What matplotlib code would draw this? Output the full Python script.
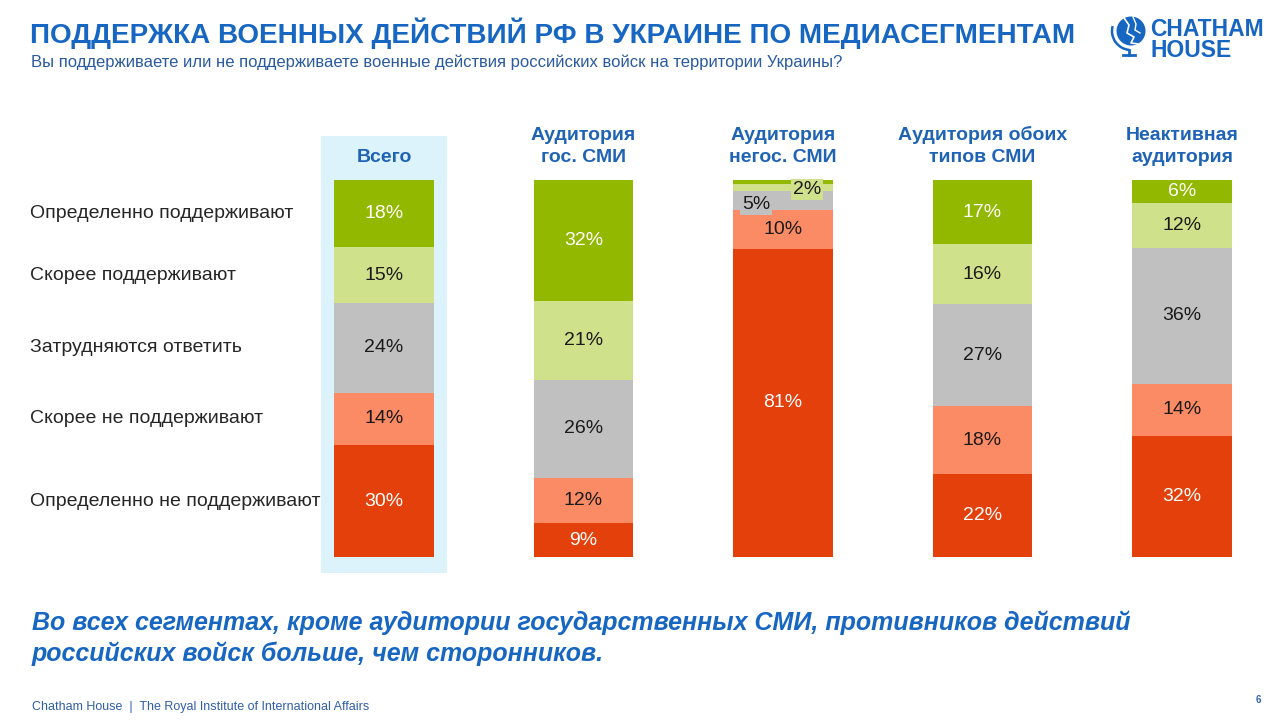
import matplotlib.pyplot as plt
from matplotlib.patches import Rectangle, Circle, Arc
from matplotlib import transforms
import numpy as np

plt.rcParams['font.family'] = ['Liberation Sans', 'DejaVu Sans']

W, H = 1280, 720

segments = ['Определенно поддерживают', 'Скорее поддерживают', 'Затрудняются ответить',
            'Скорее не поддерживают', 'Определенно не поддерживают']
groups = ['Всего', 'Аудитория\nгос. СМИ', 'Аудитория\nнегос. СМИ',
          'Аудитория обоих\nтипов СМИ', 'Неактивная\nаудитория']

definitely_yes = [18, 32, 1, 17, 6]
rather_yes = [15, 21, 2, 16, 12]
hard_to_say = [24, 26, 5, 27, 36]
rather_no = [14, 12, 10, 18, 14]
definitely_no = [30, 9, 81, 22, 32]

colors = ['#92B800', '#CFE28B', '#C0C0C0', '#FA8B64', '#E4400B']
white_text = [True, False, False, False, True]

blue = '#1666C2'
head_blue = '#1F63B5'

fig = plt.figure(figsize=(W / 100, H / 100), dpi=100)
fig.patch.set_facecolor('white')


def fx(px):
    return px / W


def fy(py):
    return 1 - py / H


# bar axes: x data -0.5..4.5 over pixels 284..1282, y data 0..100 over pixels 180..557
ax = fig.add_axes([fx(284.2), fy(557), (1281.8 - 284.2) / W, 377 / H])
ax.set_xlim(-0.5, 4.5)
ax.set_ylim(100, 0)
ax.axis('off')

data = np.array([definitely_yes, rather_yes, hard_to_say, rather_no, definitely_no], dtype=float)
shares = data / data.sum(axis=0) * 100
x = np.arange(len(groups))

# highlight behind "Всего"
ax.add_patch(Rectangle((-0.316, -11.7), 0.632, 115.9, facecolor='#DDF3FC',
                       edgecolor='none', zorder=0, clip_on=False))

bottom = np.zeros(len(groups))
for i in range(len(segments)):
    ax.bar(x, shares[i], 0.501, bottom=bottom, color=colors[i], zorder=2)
    for j in range(len(groups)):
        val = int(data[i, j])
        mid = bottom[j] + shares[i, j] / 2
        tc = 'white' if white_text[i] else '#1a1a1a'
        if j == 2 and i == 0:
            pass
        elif j == 2 and i == 1:
            ax.text(2.12, 2.6, f'{val}%', ha='center', va='center', fontsize=14, color=tc,
                    zorder=4, bbox=dict(facecolor=colors[i], edgecolor='none', pad=1.5))
        elif j == 2 and i == 2:
            ax.text(1.865, 6.4, f'{val}%', ha='center', va='center', fontsize=14, color=tc,
                    zorder=4, bbox=dict(facecolor=colors[i], edgecolor='none', pad=1.5))
        else:
            ax.text(x[j], mid, f'{val}%', ha='center', va='center', fontsize=14, color=tc, zorder=3)
    bottom += shares[i]

# row labels aligned with the first bar's segments
row_tr = transforms.blended_transform_factory(fig.transFigure, ax.transData)
centers = np.cumsum(shares[:, 0]) - shares[:, 0] / 2
for lab, c in zip(segments, centers):
    ax.text(fx(30), c, lab, transform=row_tr, ha='left', va='center', fontsize=14, color='#262626')

# column headers
for j, g in enumerate(groups):
    ax.text(x[j], -3.6, g, ha='center', va='bottom', fontsize=14, fontweight='bold',
            color=head_blue, linespacing=1.4, clip_on=False)

# title and subtitle
fig.text(fx(30), fy(33), 'ПОДДЕРЖКА ВОЕННЫХ ДЕЙСТВИЙ РФ В УКРАИНЕ ПО МЕДИАСЕГМЕНТАМ',
         ha='left', va='center', fontsize=20.1, fontweight='bold', color=blue)
fig.text(fx(31), fy(62), 'Вы поддерживаете или не поддерживаете военные действия российских войск на территории Украины?',
         ha='left', va='center', fontsize=12, color='#2A5AA0')

# conclusion
fig.text(fx(32), fy(638), 'Во всех сегментах, кроме аудитории государственных СМИ, противников действий\n'
         'российских войск больше, чем сторонников.',
         ha='left', va='center', fontsize=18, fontweight='bold', fontstyle='italic',
         color=blue, linespacing=1.3)

# footer
fig.text(fx(32), fy(707), 'Chatham House  |  The Royal Institute of International Affairs',
         ha='left', va='center', fontsize=9, color='#2F5FA8')
fig.text(fx(1258), fy(700), '6', ha='center', va='center', fontsize=7, fontweight='bold', color='#2F5FA8')

# logo
lax = fig.add_axes([0, 0, 1, 1], zorder=-1)
lax.set_xlim(0, W)
lax.set_ylim(H, 0)
lax.axis('off')
lax.add_patch(Circle((1131, 31), 14.5, facecolor=blue, edgecolor='none'))
lax.plot([1124, 1129, 1127, 1134, 1131, 1138], [18, 25, 33, 37, 43, 44], color='white', lw=1.2)
lax.plot([1133, 1136, 1135, 1140], [17, 24, 30, 33], color='white', lw=1.0)
lax.add_patch(Arc((1131, 31), 38, 38, theta1=95, theta2=195, color=blue, lw=1.8))
lax.plot([1123, 1135], [55, 55], color=blue, lw=2)
lax.plot([1129, 1129], [50, 55], color=blue, lw=2)
fig.text(fx(1150), fy(40), 'CHATHAM\nHOUSE', ha='left', va='center', fontsize=16.5,
         fontweight='bold', color=blue, linespacing=0.88)

fig.savefig('out.png', dpi=100, facecolor='white')
